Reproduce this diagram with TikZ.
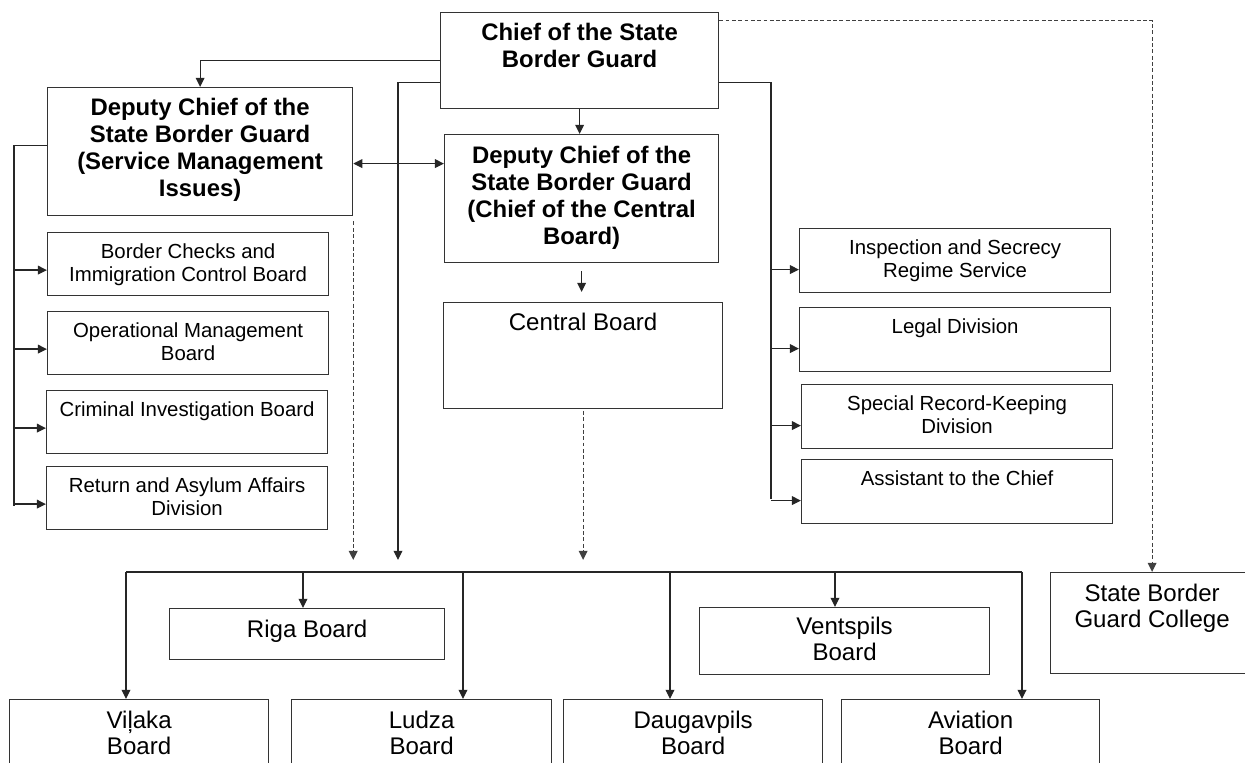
\documentclass[tikz,border=0pt]{standalone}
\usepackage{fontspec}
\setmainfont{Liberation Sans}
\usetikzlibrary{arrows.meta}
\newlength{\px}
\setlength{\px}{0.02cm}
% box text: [first baseline]{width}{height}{text}, all in px
\newcommand{\orgbox}[4][26]{\parbox[t][#3\px][t]{#2\px}{\centering\rule{0pt}{#1\px}#4}}

\begin{document}
\begin{tikzpicture}[
    x=0.02cm, y=-0.02cm,
    >={Triangle[length=5.2pt,width=5pt]},
    unit/.style={draw=black!80, line width=0.7pt, anchor=north west, inner sep=0pt},
    small/.style={font=\fontsize{11.6}{13.2}\selectfont},
    chiefs/.style={font=\fontsize{13.6}{15.4}\selectfont\bfseries},
    boards/.style={font=\fontsize{13.7}{15}\selectfont},
    wire/.style={draw=black!85, line width=0.7pt},
    arr/.style={wire, ->},
    dasharr/.style={arr, draw=black!75, dash pattern=on 2.2pt off 1.4pt}
  ]
    \useasboundingbox (0,0) rectangle (1245,763);
    \clip (0,0) rectangle (1245,763);
    % leadership
    \node[unit,chiefs] (chief) at (440,12)
        {\orgbox[28]{278}{96}{Chief of the State\\Border Guard}};
    \node[unit,chiefs] (smi) at (47,87)
        {\orgbox[28]{305}{128}{Deputy Chief of the\\State Border Guard\\(Service Management\\Issues)}};
    \node[unit,chiefs] (dcb) at (444,134)
        {\orgbox[29]{274}{128}{Deputy Chief of the\\State Border Guard\\(Chief of the Central\\Board)}};
    \node[unit,boards] (cb) at (443,302) {\orgbox[28]{279}{106}{Central Board}};
    % left column
    \foreach \n/\x/\y/\t in {bcb/47/232/{Border Checks and\\Immigration Control Board},
        omb/47/311/{Operational Management\\Board}, cib/46/390/{Criminal Investigation Board},
        rad/46/466/{Return and Asylum Affairs\\Division}}
        \node[unit,small] (\n) at (\x,\y) {\orgbox{281}{63}{\t}};
    % right column
    \foreach \n/\x/\y/\t in {isr/799/228/{Inspection and Secrecy\\Regime Service},
        leg/799/307/{Legal Division}, srk/801/384/{Special Record-Keeping\\Division},
        ast/801/459/{Assistant to the Chief}}
        \node[unit,small] (\n) at (\x,\y) {\orgbox{311}{64}{\t}};
    % regional boards
    \node[unit,boards] (riga) at (169,608) {\orgbox[29]{275}{51}{Riga Board}};
    \node[unit,boards] (vent) at (699,607) {\orgbox[27]{290}{67}{Ventspils\\Board}};
    \foreach \n/\x/\w/\t in {vil/9/259/Viļaka, lud/291/260/Ludza,
        dau/563/259/Daugavpils, avi/841/258/Aviation}
        \node[unit,boards] (\n) at (\x,699) {\orgbox[29]{\w}{100}{\t\\Board}};
    \node[unit,boards] (col) at (1050,572)
        {\orgbox[29]{203}{101}{State Border\\Guard College}};
    % named points
    \coordinate (stop) at (0,560);
    \coordinate (mainin) at (398,560);
    \coordinate (bl) at (126,572);
    \coordinate (br) at (1022,572);
    \coordinate (lb) at (14,506);
    \coordinate (rb) at (771,499);
    \coordinate (mid) at ([shift={(0,12)}]smi.east);
    % chief to deputies
    \draw[arr] (chief.west) -| (smi.north);
    \draw[arr] (chief.south) -- (chief.south |- dcb.north);
    \draw[wire, <->] (mid) -- (mid -| dcb.west);
    \draw[arr, shorten <=4.5pt, shorten >=5.7pt] (dcb.south) -- (dcb.south |- cb.north);
    % down to the regional boards
    \draw[arr] ([shift={(0,22)}]chief.west) -| (mainin);
    \draw[dasharr, shorten <=3pt] (smi.south east) -- (smi.south east |- stop);
    \draw[dasharr, shorten <=1pt] (cb.south) -- (cb.south |- stop);
    \draw[dasharr] ([shift={(0,-40)}]chief.east) -| (col.north);
    % left branch
    \draw[wire] ([shift={(0,-6)}]smi.west) -| (lb);
    \foreach \n in {bcb,omb,cib,rad} {
        \coordinate (t) at ([shift={(0,6)}]\n.west);
        \draw[arr] (lb |- t) -- (t);
    }
    % right branch
    \draw[wire] ([shift={(0,22)}]chief.east) -| (rb);
    \foreach \n in {isr,leg,srk,ast} {
        \coordinate (t) at ([shift={(0,9)}]\n.west);
        \draw[arr] (rb |- t) -- (t);
    }
    % bus
    \draw[wire] (bl) -- (br);
    \draw[arr] (bl) -- (bl |- vil.north);
    \draw[arr] (br) -- (br |- avi.north);
    \foreach \x/\n in {303/riga,463/lud,670/dau,835/vent}
        \draw[arr] (\x,0 |- bl) -- (\x,0 |- \n.north);
\end{tikzpicture}
\end{document}
